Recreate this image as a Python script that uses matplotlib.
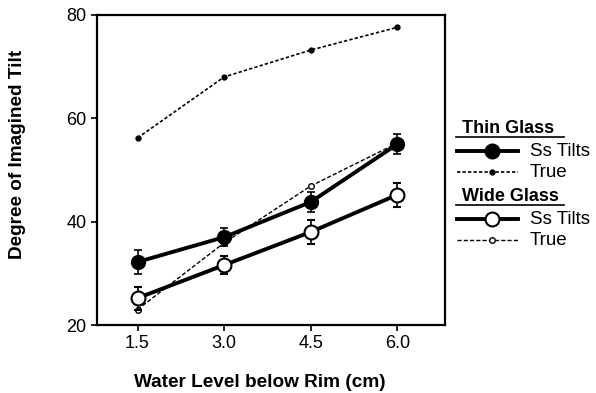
import matplotlib.pyplot as plt
from matplotlib.lines import Line2D

plt.rcParams['font.family'] = ['Liberation Sans', 'DejaVu Sans']

water_level = [1.5, 3.0, 4.5, 6.0]
thin_ss = [32.2, 37.0, 43.8, 55.0]
thin_ss_err = [2.3, 1.8, 2.0, 2.0]
thin_true = [56.2, 68.0, 73.2, 77.6]
wide_ss = [25.2, 31.6, 38.0, 45.2]
wide_ss_err = [2.2, 1.8, 2.3, 2.3]
wide_true = [23.0, 35.9, 46.9, 55.2]
x_ticks = [1.5, 3.0, 4.5, 6.0]
x_labels = ["1.5", "3.0", "4.5", "6.0"]
y_ticks = [20, 40, 60, 80]


def main():
    fig = plt.figure(figsize=(5.96, 3.93), dpi=100)
    ax = fig.add_axes([0.163, 0.173, 0.584, 0.789])

    thin_true_style = dict(ls=':', lw=1.2, ms=3.5, mfc='black', dashes=(2, 1.3))
    wide_true_style = dict(ls='--', lw=1.0, ms=4, mfc='white', dashes=(3, 1.5))

    ax.plot(water_level, thin_true, color='black', marker='o', **thin_true_style)
    ax.plot(water_level, wide_true, color='black', marker='o', **wide_true_style)
    ax.errorbar(water_level, thin_ss, yerr=thin_ss_err, color='black', lw=2.8,
                marker='o', ms=10, mfc='black', elinewidth=1.2, capsize=3, capthick=1.2)
    ax.errorbar(water_level, wide_ss, yerr=wide_ss_err, color='black', lw=2.8,
                marker='o', ms=10, mfc='white', mew=1.5, elinewidth=1.2, capsize=3,
                capthick=1.2)

    ax.set_xlim(0.8, 6.83)
    ax.set_ylim(20, 80)
    ax.set_xticks(x_ticks)
    ax.set_xticklabels(x_labels)
    ax.set_yticks(y_ticks)
    ax.tick_params(direction='out', length=4, width=1.2, labelsize=13)
    for s in ax.spines.values():
        s.set_linewidth(1.6)
    ax.set_xlabel("Water Level below Rim (cm)", fontsize=13.7, fontweight='bold')
    ax.set_ylabel("Degree of Imagined Tilt", fontsize=13.7, fontweight='bold')
    ax.xaxis.set_label_coords(0.466, -0.158)
    ax.yaxis.set_label_coords(-0.205, 0.55)

    # legend drawn by hand to the right of the axes
    groups = [
        ("Thin Glass", 0.672, 'black', thin_true_style),
        ("Wide Glass", 0.499, 'white', wide_true_style),
    ]
    x0, xm, x1 = 0.767, 0.825, 0.869
    for title, ytitle, fill, true_style in groups:
        fig.text(x0 + 0.008, ytitle, title, fontsize=13, fontweight='bold', va='center')
        yu = ytitle - 0.02
        fig.add_artist(Line2D([x0 - 0.002, x0 + 0.18], [yu, yu],
                              color='black', lw=1.2, transform=fig.transFigure))
        y1 = ytitle - 0.057
        fig.add_artist(Line2D([x0, xm, x1], [y1, y1, y1], color='black',
                              lw=2.8, marker='o', markevery=[1], ms=10, mfc=fill, mew=1.5,
                              transform=fig.transFigure))
        fig.text(0.889, y1, "Ss Tilts", fontsize=13.5, va='center')
        y2 = ytitle - 0.11
        fig.add_artist(Line2D([x0, xm, x1], [y2, y2, y2], color='black',
                              marker='o', markevery=[1], transform=fig.transFigure,
                              **true_style))
        fig.text(0.889, y2, "True", fontsize=13.5, va='center')

    plt.savefig('out.png')


if __name__ == '__main__':
    main()
